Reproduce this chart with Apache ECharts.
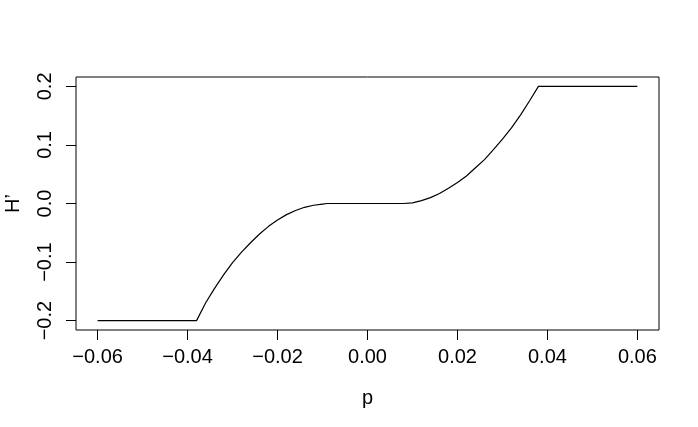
<!DOCTYPE html>
<html>
<head>
<meta charset="utf-8">
<script src="https://cdn.jsdelivr.net/npm/echarts@6/dist/echarts.min.js"></script>
<style>
  html, body { margin: 0; padding: 0; background: #fff; }
  #main { width: 698px; height: 427px; }
</style>
</head>
<body>
<div id="main"></div>
<script>
  // values
  var pValues = [-0.06, -0.038, -0.036, -0.034, -0.032, -0.030, -0.028, -0.026, -0.024, -0.022,
    -0.020, -0.018, -0.016, -0.014, -0.012, -0.010, -0.009,
    0.008, 0.010, 0.012, 0.014, 0.016, 0.018, 0.020, 0.022, 0.024, 0.026,
    0.028, 0.030, 0.032, 0.034, 0.036, 0.038, 0.06];
  var hValues = [-0.200, -0.200, -0.170, -0.145, -0.122, -0.101, -0.083, -0.067, -0.052, -0.039,
    -0.028, -0.019, -0.012, -0.0065, -0.003, -0.001, 0.000,
    0.000, 0.001, 0.005, 0.010, 0.017, 0.026, 0.036, 0.047, 0.061, 0.075,
    0.092, 0.110, 0.129, 0.151, 0.175, 0.200, 0.200];
  var xTicks = [-0.06, -0.04, -0.02, 0, 0.02, 0.04, 0.06];
  var yTicks = [-0.2, -0.1, 0, 0.1, 0.2];

  var points = pValues.map(function (p, i) {
    return [p, hValues[i]];
  });

  function fmt(v, d) {
    var s = Math.abs(v).toFixed(d);
    return (v < -1e-9 ? '\u2212' : '') + s;
  }

  var font = 'Liberation Sans, Arial, Helvetica, sans-serif';
  var chart = echarts.init(document.getElementById('main'));
  chart.setOption({
    animation: false,
    grid: {
      left: 76, right: 39, top: 77, bottom: 97,
      outerBoundsMode: 'none',
      show: true, borderColor: '#000', borderWidth: 1, backgroundColor: 'transparent'
    },
    xAxis: {
      type: 'value',
      min: -0.0648, max: 0.0648,
      name: 'p', nameLocation: 'middle', nameGap: 58,
      nameTextStyle: { color: '#000', fontSize: 20, fontFamily: font },
      axisLine: { show: false, onZero: false },
      splitLine: { show: false },
      axisTick: { show: true, length: 10, inside: false, customValues: xTicks, lineStyle: { color: '#000' } },
      axisLabel: {
        customValues: xTicks, margin: 17, color: '#000', fontSize: 20, fontFamily: font,
        formatter: function (v) { return fmt(v, 2); }
      }
    },
    yAxis: {
      type: 'value',
      min: -0.216, max: 0.216,
      name: 'H\u2019', nameLocation: 'middle', nameGap: 53,
      nameTextStyle: { color: '#000', fontSize: 20, fontFamily: font },
      axisLine: { show: false, onZero: false },
      splitLine: { show: false },
      axisTick: { show: true, length: 10, customValues: yTicks, lineStyle: { color: '#000' } },
      axisLabel: {
        customValues: yTicks, margin: 21, rotate: 90, color: '#000', fontSize: 20, fontFamily: font,
        formatter: function (v) { return fmt(v, 1); }
      }
    },
    series: [{
      type: 'line',
      data: points,
      showSymbol: false,
      smooth: false,
      lineStyle: { color: '#000', width: 1.2 }
    }]
  });
</script>
</body>
</html>
